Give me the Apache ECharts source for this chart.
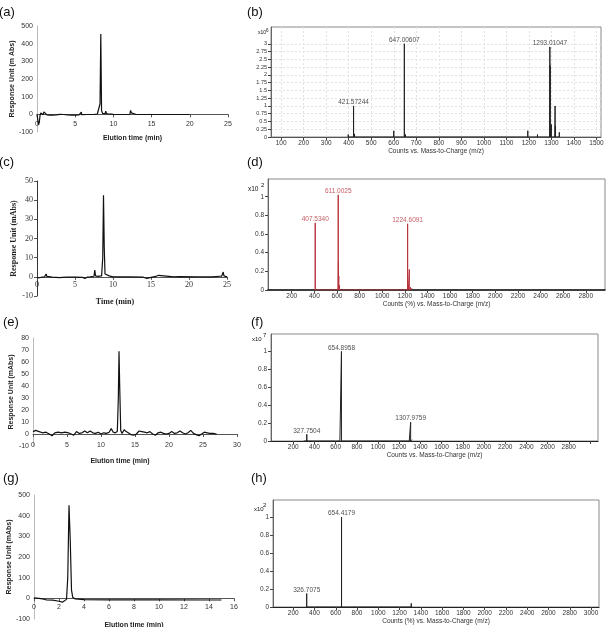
<!DOCTYPE html>
<html>
<head>
<meta charset="utf-8">
<script src="https://cdn.jsdelivr.net/npm/echarts@6/dist/echarts.min.js"></script>
<style>
html, body { margin: 0; padding: 0; background: #fff; }
#main { width: 606px; height: 627px; }
</style>
</head>
<body>
<div id="main"></div>
<script>
// (a) HPLC chromatogram
const aTime = [0, 0.1, 0.2, 0.3, 0.4, 0.5, 0.6, 0.7, 0.8, 0.9, 1.0, 1.1, 1.3, 1.6, 2.0, 2.5, 3.0, 3.5, 4.0, 4.5, 5.0, 5.5, 5.75, 5.8, 5.85, 6.5, 7.0, 7.5, 7.9, 8.1, 8.25, 8.35, 8.45, 8.6, 8.9, 9.0, 9.1, 9.3, 9.4, 9.7, 10.0, 11.0, 12.15, 12.25, 12.35, 12.45, 13.0, 15.0, 20.0];
const aResp = [0, -10, -60, -45, -5, 8, 2, 10, -2, 14, 4, 6, -3, -4, -5, -3, 0, -1, -3, -4, -5, -3, -2, 12, -2, -1, -1, 0, 2, 6, 60, 455, 20, 5, 3, 18, 4, 10, 2, 1, 0, -1, -1, 22, 8, -1, -1, -1, -1];

// (b) mass spectrum
const bMz  = [398, 421.57244, 426, 600, 620, 647.00607, 652, 1195, 1215, 1238, 1293.01047, 1294.5, 1300, 1316, 1317.5, 1335];
const bInt = [0.08, 1.0, 0.1, 0.2, 0.05, 3.0, 0.08, 0.2, 0.05, 0.08, 2.9, 2.3, 0.4, 1.0, 0.35, 0.15];
const bTag = ['', '421.57244', '', '', '', '647.00607', '', '', '', '', '1293.01047', '', '', '', '', ''];
const bXTicks = [100, 200, 300, 400, 500, 600, 700, 800, 900, 1000, 1100, 1200, 1300, 1400, 1500];
const bYTicks = [0, 0.25, 0.5, 0.75, 1, 1.25, 1.5, 1.75, 2, 2.25, 2.5, 2.75, 3];

// (c) HPLC chromatogram
const cTime = [0, 0.5, 1.0, 1.1, 1.2, 1.3, 2.0, 3.0, 3.1, 3.3, 4.0, 5.0, 6.0, 6.3, 6.6, 7.0, 7.5, 7.6, 7.7, 8.0, 8.5, 8.65, 8.75, 8.85, 8.95, 9.2, 9.5, 9.6, 9.7, 10.0, 12.0, 14.0, 14.45, 14.6, 15.6, 15.8, 16.0, 16.2, 18.0, 18.75, 18.8, 18.9, 21.0, 23.1, 23.2, 23.3, 24.0, 24.1, 24.3, 24.5, 24.6, 25.0];
const cResp = [-0.5, -0.3, 0, 0.3, 1.5, 0.2, -0.2, -0.4, -0.8, -0.3, -0.2, -0.2, -0.3, -0.8, -0.2, 0, 0.3, 3.5, 0.5, 0.2, 0.5, 10, 42.5, 15, 1.5, 0.5, 0.5, 1.5, 0.3, 0, 0, -0.2, -0.8, -0.1, 0.2, 1.2, 0.8, 0.1, 0, 0.1, 0.5, 0, 0, 0, -0.6, 0, 0.3, 1, 0.3, 2.5, 0.5, 0];

// (d) mass spectrum
const dMz  = [407.534, 611.0025, 613, 616, 622, 640, 750, 1224.6091, 1231, 1240, 1250, 1265];
const dInt = [0.72, 1.02, 0.3, 0.15, 0.05, 0.02, 0.02, 0.71, 0.05, 0.22, 0.03, 0.02];
const dTag = ['407.5340', '611.0025', '', '', '', '', '', '1224.6091', '', '', '', ''];
const dXTicks = [200, 400, 600, 800, 1000, 1200, 1400, 1600, 1800, 2000, 2200, 2400, 2600, 2800];
const dYTicks = [0, 0.2, 0.4, 0.6, 0.8, 1];

// (e) HPLC chromatogram
const eTime = [0, 0.4, 0.9, 1.4, 1.9, 2.4, 2.8, 3.2, 3.7, 4.2, 4.7, 5.2, 5.6, 6.0, 6.4, 6.8, 7.2, 7.6, 8.0, 8.4, 8.8, 9.2, 9.6, 10.0, 10.4, 10.8, 11.2, 11.5, 11.8, 12.1, 12.4, 12.55, 12.65, 12.75, 12.9, 13.1, 13.4, 13.7, 14.0, 14.4, 14.8, 15.2, 15.6, 16.0, 16.4, 16.8, 17.2, 17.6, 18.0, 18.4, 18.8, 19.2, 19.6, 20.0, 20.4, 20.8, 21.2, 21.6, 22.0, 22.4, 22.8, 23.2, 23.6, 24.0, 24.4, 24.8, 25.2, 25.6, 26.0, 26.5, 27.0];
const eResp = [2, 3, 2, 1, 1.5, 0, -1.5, 1, 1.5, 1, 1.5, 1, 0, -1, 2, 0.5, 1, 2.5, 1, 2.5, 1, 0.5, 1.5, 0, 1, 0.5, 1.5, 4.5, 1.5, 1, 2, 30, 69, 40, 3, 0.5, 3.5, 2, 1, -0.5, -1, 0, 2.5, 2, 1.5, 1, 2, 0, -1, 1, 1.5, 0.5, 0, 0.5, 2, 0.5, 1, 2.5, 1, 0, 1, 3, 0.5, -0.5, -1.5, 0, 1.5, 1, 0.5, 0.5, 0];

// (f) mass spectrum
const fMz  = [300, 327.7504, 345, 600, 640, 654.8958, 668, 700, 1295, 1307.9759, 1320];
const fInt = [0.01, 0.075, 0.015, 0.01, 0.01, 1.0, 0.02, 0.01, 0.015, 0.21, 0.015];
const fTag = ['', '327.7504', '', '', '', '654.8958', '', '', '', '1307.9759', ''];
const fXTicks = [200, 400, 600, 800, 1000, 1200, 1400, 1600, 1800, 2000, 2200, 2400, 2600, 2800, 3000];
const fXLabels = [200, 400, 600, 800, 1000, 1200, 1400, 1600, 1800, 2000, 2200, 2400, 2600, 2800];
const fYTicks = [0, 0.2, 0.4, 0.6, 0.8, 1];

// (g) HPLC chromatogram
const gTime = [0, 0.4, 0.8, 0.9, 1.0, 1.5, 2.0, 2.3, 2.45, 2.6, 2.7, 2.8, 2.9, 3.0, 3.1, 3.3, 4.0, 6.0, 10.0, 15.0];
const gResp = [2, 0, -4, -10, -8, -9, -14, -18, -10, -5, 100, 450, 280, 40, 5, -3, -6, -7, -7, -8];

// (h) mass spectrum
const hMz  = [326.7075, 400, 480, 550, 620, 654.4179, 700, 800, 1000, 1310];
const hInt = [0.15, 0.01, 0.01, 0.01, 0.02, 1.0, 0.01, 0.01, 0.01, 0.04];
const hTag = ['326.7075', '', '', '', '', '654.4179', '', '', '', ''];
const hXTicks = [200, 400, 600, 800, 1000, 1200, 1400, 1600, 1800, 2000, 2200, 2400, 2600, 2800, 3000];
const hYTicks = [0, 0.2, 0.4, 0.6, 0.8, 1];

const SANS = 'Liberation Sans';
const SERIF = 'Liberation Serif';
const plain = v => String(v);

function pairs(xs, ys) {
  return xs.map((x, i) => [x, ys[i]]);
}

// each peak drawn as a vertical stick from the baseline
function sticks(mz, h) {
  const out = [];
  mz.forEach((m, i) => { out.push([m, 0], [m, h[i]], [m, 0]); });
  return out;
}

function tagged(mz, h, tag) {
  const out = [];
  mz.forEach((m, i) => { if (tag[i]) out.push([m, h[i], tag[i]]); });
  return out;
}

const grids = [];
const xAxes = [];
const yAxes = [];
const series = [];

function chromPanel(box, x, y, names, data, font, nm) {
  const gi = grids.length;
  grids.push({ left: box[0], top: box[1], width: box[2], height: box[3], outerBoundsMode: 'none' });
  xAxes.push({
    gridIndex: gi, type: 'value', min: x[0], max: x[1], interval: x[2],
    axisLine: { onZero: true, lineStyle: { color: '#555', width: 1 } },
    axisTick: { show: true, length: 3, lineStyle: { color: '#555' } },
    axisLabel: { fontSize: nm.fs, color: '#333', fontFamily: font, margin: nm.xm, formatter: plain },
    splitLine: { show: false },
    name: names[0], nameLocation: 'middle', nameGap: nm.xg,
    nameTextStyle: { fontSize: nm.fs, fontWeight: 'bold', color: '#222', fontFamily: font, padding: nm.xpad || 0 }
  });
  yAxes.push({
    gridIndex: gi, type: 'value', min: y[0], max: y[1], interval: y[2],
    axisLine: { show: true, onZero: false, lineStyle: { color: nm.yc, width: 1 } },
    axisTick: { show: nm.ytick, length: 3, lineStyle: { color: '#555' } },
    axisLabel: { fontSize: nm.fs, color: '#333', fontFamily: font, margin: 4, formatter: plain },
    splitLine: { show: false },
    name: names[1], nameLocation: 'middle', nameGap: nm.yg,
    nameTextStyle: { fontSize: nm.fs, fontWeight: 'bold', color: '#222', fontFamily: font }
  });
  series.push({
    type: 'line', xAxisIndex: gi, yAxisIndex: gi, data: data,
    symbol: 'none', lineStyle: { color: '#111', width: 1.2 }
  });
}

function specPanel(box, x, y, xTicks, xLabels, yTicks, name, mz, h, tag, color, grid, nm) {
  const gi = grids.length;
  grids.push({ left: box[0], top: box[1], width: box[2], height: box[3], show: true,
    borderColor: '#8a8a8a', borderWidth: 1, outerBoundsMode: 'none' });
  xAxes.push({
    gridIndex: gi, type: 'value', min: x[0], max: x[1],
    axisLine: { onZero: false, lineStyle: { color: nm.ac, width: nm.aw } },
    axisTick: { customValues: xTicks, length: 3, lineStyle: { color: '#444' } },
    axisLabel: { customValues: xLabels, fontSize: 6.5, color: '#333', fontFamily: SANS, margin: 3, formatter: plain },
    splitLine: { show: grid, lineStyle: { color: '#e2e2e2', type: [2, 2], width: 1 } },
    name: name, nameLocation: 'middle', nameGap: nm.xg,
    nameTextStyle: { fontSize: 6.5, color: '#333', fontFamily: SANS }
  });
  yAxes.push({
    gridIndex: gi, type: 'value', min: y[0], max: y[1],
    axisLine: { show: true, onZero: false, lineStyle: { color: '#666', width: 1 } },
    axisTick: { customValues: yTicks, length: 3, lineStyle: { color: '#444' } },
    axisLabel: { customValues: yTicks, fontSize: nm.yfs || 6.5, color: '#333', fontFamily: SANS, margin: 4, formatter: plain },
    splitLine: { show: grid, lineStyle: { color: '#e2e2e2', type: [2, 2], width: 1 } }
  });
  series.push({
    type: 'line', xAxisIndex: gi, yAxisIndex: gi, data: sticks(mz, h),
    symbol: 'none', lineStyle: { color: color, width: 1 }
  });
  series.push({
    type: 'scatter', xAxisIndex: gi, yAxisIndex: gi, data: tagged(mz, h, tag),
    symbolSize: 0,
    label: { show: true, position: 'top', distance: 0, fontSize: 6.5, fontFamily: SANS,
      color: nm.lc, formatter: p => p.value[2] }
  });
}

chromPanel([37, 26, 191, 106], [0, 25, 5], [-100, 500, 100],
  ['Elution time (min)', 'Response Unit (m Abs)'], pairs(aTime, aResp), SANS,
  { fs: 7, xm: -11.5, xg: 3, yg: 21, yc: '#bbb', ytick: false });
specPanel([271, 27, 330, 110], [55, 1520], [0, 3.54], bXTicks, bXTicks, bYTicks,
  'Counts vs. Mass-to-Charge (m/z)', bMz, bInt, bTag, '#222', true,
  { xg: 9, ac: '#555', aw: 1, lc: '#222', yfs: 5.5 });

chromPanel([37, 181, 190, 115], [0, 25, 5], [-10, 50, 10],
  ['Time (min)', 'Response Unit (mAbs)'], pairs(cTime, cResp), SERIF,
  { fs: 8, xm: -15, xg: 2, yg: 19, yc: '#333', ytick: true, xpad: [0, 34, 0, 0] });
specPanel([268, 179, 337, 111], [-10, 2970], [0, 1.19], dXTicks, dXTicks, dYTicks,
  'Counts (%) vs. Mass-to-Charge (m/z)', dMz, dInt, dTag, '#b8323c', false,
  { xg: 10, ac: '#111', aw: 1.5, lc: '#b8323c' });

chromPanel([33, 338, 204, 108], [0, 30, 5], [-10, 80, 10],
  ['Elution time (min)', 'Response Unit (mAbs)'], pairs(eTime, eResp), SANS,
  { fs: 7, xm: -4, xg: 12, yg: 18, yc: '#bbb', ytick: false, xpad: [0, 30, 0, 0] });
specPanel([271, 334, 327, 107], [-10, 3076], [0, 1.195], fXTicks, fXLabels, fYTicks,
  'Counts vs. Mass-to-Charge (m/z)', fMz, fInt, fTag, '#222', false,
  { xg: 9, ac: '#222', aw: 1.2, lc: '#222' });

chromPanel([34, 495, 200, 124], [0, 16, 2], [-100, 500, 100],
  ['Elution time (min)', 'Response Unit (mAbs)'], pairs(gTime, gResp), SANS,
  { fs: 7, xm: -15, xg: 3, yg: 18, yc: '#bbb', ytick: false });
specPanel([273, 500, 326, 107], [10, 3075], [0, 1.19], hXTicks, hXTicks, hYTicks,
  'Counts (%) vs. Mass-to-Charge (m/z)', hMz, hInt, hTag, '#222', false,
  { xg: 7, ac: '#222', aw: 1.2, lc: '#222' });

function txt(s, x, y, size) {
  return { type: 'text', left: x, top: y, silent: true,
    style: { text: s, fontSize: size, fontFamily: SANS, fill: '#111' } };
}

const graphics = [
  txt('(a)', -1, 6, 13), txt('(b)', 247, 6, 13),
  txt('(c)', -1, 156, 13), txt('(d)', 247, 156, 13),
  txt('(e)', 3, 316, 13), txt('(f)', 251, 316, 13),
  txt('(g)', 3, 472, 13), txt('(h)', 251, 472, 13),
  txt('x10', 258, 30, 5), txt('6', 266, 28, 4.5),
  txt('x10', 248, 186, 6.5), txt('2', 261, 182, 6),
  txt('x10', 252, 336, 6), txt('7', 263, 332, 6),
  txt('x10', 254, 506, 6), txt('2', 263, 502, 6)
];

const chart = echarts.init(document.getElementById('main'), null, { renderer: 'canvas' });
chart.setOption({
  animation: false,
  backgroundColor: '#fff',
  grid: grids,
  xAxis: xAxes,
  yAxis: yAxes,
  series: series,
  graphic: graphics
});
</script>
</body>
</html>
